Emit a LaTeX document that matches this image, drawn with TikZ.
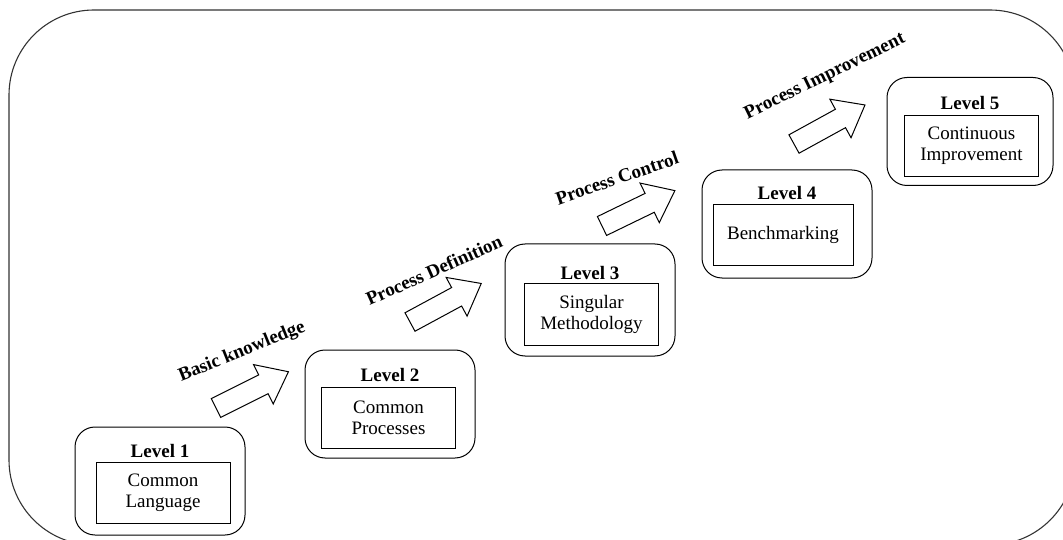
\documentclass[tikz,border=0pt]{standalone}
\usepackage{fontspec}
\setmainfont{Liberation Serif}
\begin{document}
\begin{tikzpicture}[x=1pt,y=-1pt,
  frame/.style={draw=black!80, line width=1.1pt},
  levelbox/.style={draw, line width=1pt, rounded corners=20pt,
    minimum width=170pt, minimum height=108pt, inner sep=0pt},
  innerbox/.style={draw, line width=0.9pt, minimum width=134pt,
    minimum height=61pt, inner sep=0pt, align=center,
    font=\fontsize{19}{21}\selectfont},
  leveltitle/.style={font=\fontsize{19}{21}\selectfont\bfseries, inner sep=0pt},
  steplabel/.style={font=\fontsize{19}{21}\selectfont\bfseries, inner sep=0pt},
  blockarrow/.style={draw, line width=1pt, fill=white, line join=miter}]
\useasboundingbox (0,0) rectangle (1063,540);

% outer frame, running off the right and bottom edges
\begin{scope}
  \clip (0,0) rectangle (1063,540);
  \draw[frame, rounded corners=85pt] (9,10) rectangle (1075,545);
\end{scope}

% level boxes
\node[levelbox] (l1) at (160,481) {};
\node[leveltitle] (t1) at (160,451) {Level 1};
\node[innerbox] (i1) at (163,493) {Common\\Language};

\node[levelbox] (l2) at (390,404) {};
\node[leveltitle] (t2) at (390,375) {Level 2};
\node[innerbox] (i2) at (388.5,418) {Common\\Processes};

\node[levelbox, minimum height=112pt] (l3) at (590,300) {};
\node[leveltitle] (t3) at (590,273) {Level 3};
\node[innerbox, minimum height=62pt] (i3) at (591.5,314.5) {Singular\\Methodology};

\node[levelbox] (l4) at (787,224) {};
\node[leveltitle] (t4) at (787,193) {Level 4};
\node[innerbox, minimum width=140pt] (i4) at (783,234.5) {Benchmarking};

\node[levelbox, minimum width=166pt] (l5) at (970,131.5) {};
\node[leveltitle] (t5) at (970,103) {Level 5};
\node[innerbox] (i5) at (971.5,146) {Continuous\\Improvement};

% block arrows between levels
\foreach \x/\y/\a in {216/408/26.6, 410/322/28.4, 602/226/25.9, 794/144/28.8}{
  \draw[blockarrow, shift={(\x,\y)}, rotate=\a]
    (0,-10.5) -- (53,-10.5) -- (53,-22) -- (81,0) -- (53,22) -- (53,10.5)
    -- (0,10.5) -- cycle;
}

% step labels
\node[steplabel, rotate=22] (s1) at (242,352) {Basic knowledge};
\node[steplabel, rotate=24] (s2) at (434,270) {Process Definition};
\node[steplabel, rotate=19] (s3) at (617,178) {Process Control};
\node[steplabel, rotate=26] (s4) at (825,77) {Process Improvement};
\end{tikzpicture}
\end{document}
